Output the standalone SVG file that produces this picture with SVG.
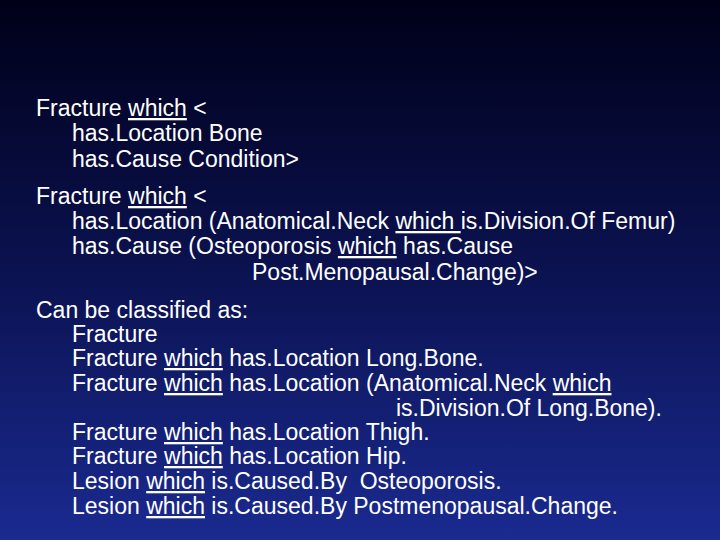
<svg xmlns="http://www.w3.org/2000/svg" width="720" height="540" viewBox="0 0 720 540">
<defs>
<linearGradient id="bg" x1="0" y1="0" x2="0" y2="1">
<stop offset="0" stop-color="#000018"/>
<stop offset="0.5" stop-color="#0b1250"/>
<stop offset="1" stop-color="#1a2a90"/>
</linearGradient>
</defs>
<style>
text{font-family:"Liberation Sans",Arial,sans-serif;font-size:23px;fill:#fff}
.u{text-decoration:underline}
</style>
<rect width="720" height="540" fill="url(#bg)"/>
<g id="content" transform="translate(0,1)">
<g id="block1">
<text x="36" y="115">Fracture <tspan class="u">which</tspan> &lt;</text>
<text x="72" y="140">has.Location Bone</text>
<text x="72" y="166">has.Cause Condition&gt;</text>
</g>
<g id="block2">
<text x="36" y="203">Fracture <tspan class="u">which</tspan> &lt;</text>
<text x="72" y="228" xml:space="preserve">has.Location (Anatomical.Neck <tspan class="u">which </tspan>is.Division.Of Femur)</text>
<text x="72" y="253">has.Cause (Osteoporosis <tspan class="u">which</tspan> has.Cause</text>
<text x="252" y="279">Post.Menopausal.Change)&gt;</text>
</g>
<g id="block3">
<text x="36" y="317">Can be classified as:</text>
<text x="72" y="341">Fracture</text>
<text x="72" y="365">Fracture <tspan class="u">which</tspan> has.Location Long.Bone.</text>
<text x="72" y="390">Fracture <tspan class="u">which</tspan> has.Location (Anatomical.Neck <tspan class="u">which</tspan></text>
<text x="396" y="415">is.Division.Of Long.Bone).</text>
<text x="72" y="439">Fracture <tspan class="u">which</tspan> has.Location Thigh.</text>
<text x="72" y="463">Fracture <tspan class="u">which</tspan> has.Location Hip.</text>
<text x="72" y="488" xml:space="preserve">Lesion <tspan class="u">which</tspan> is.Caused.By  Osteoporosis.</text>
<text x="72" y="513">Lesion <tspan class="u">which</tspan> is.Caused.By Postmenopausal.Change.</text>
</g>
</g>
</svg>
